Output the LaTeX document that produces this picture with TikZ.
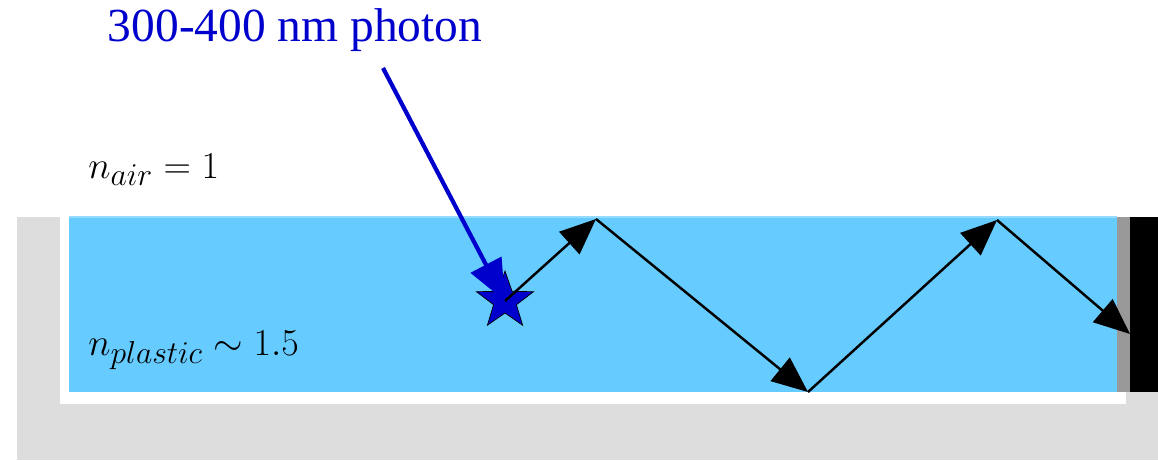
\documentclass[tikz,border=0pt]{standalone}
\usepackage{amsmath}
\usepackage{graphicx}
\usepackage{fontspec}
\usepackage{xcolor}
\usepackage{tikz}
\usetikzlibrary{arrows.meta, shapes.geometric}
\newfontfamily\labelfont{Liberation Serif}
\definecolor{plastic}{HTML}{66CCFF}
\definecolor{housing}{HTML}{DDDDDD}
\definecolor{glue}{HTML}{999999}
\definecolor{photonblue}{HTML}{0000CC}
\def\starR{1.2}
\newcommand{\idx}[1]{\scalebox{0.87}{\fontsize{24.88}{30}\selectfont #1}}

\begin{document}
\begin{tikzpicture}[
    x=0.02cm, y=-0.02cm,
    ray/.style={line width=1.4pt, -{Triangle[length=0.72cm,width=0.6cm]}},
    inray/.style={photonblue, line width=2.4pt, -{Triangle[length=0.82cm,width=0.68cm]}},
    eq/.style={anchor=base west, inner sep=0pt}
]
\useasboundingbox (0,0) rectangle (1158,460);

% housing, gap and light guide
\fill[housing] (17,217) rectangle (1158,460);
\fill[white] (60,217) rectangle (1126,404);
\fill[plastic] (69,217) rectangle (1117,392);
\draw[plastic!70!white, line width=0.6pt] (69,217) -- (1117,217);
\fill[glue] (1117,217) rectangle (1130,392);
\fill[black] (1130,217) rectangle (1158,392);

% labels
\node[photonblue, font=\labelfont\fontsize{27}{32}\selectfont] (photon) at (295,30) {300-400 nm photon};
\node[eq] (nair) at (88,178) {\idx{$n_{air} = 1$}};
\node[eq] (nplastic) at (88,355) {\idx{$n_{plastic} \sim 1.5$}};

% emission point and bounces
\node[star, star points=5, star point ratio=2.5, minimum size=\starR cm, inner sep=0pt,
      fill=photonblue, draw=black, line width=0.4pt] (src) at (505,301) {};
\coordinate (p1) at (596,219);
\coordinate (p2) at (808,392);
\coordinate (p3) at (997,220);
\coordinate (p4) at (1130,334);
\coordinate (entry) at (383,68);

\draw[inray] (entry) -- (src.center);
\draw[ray] (src.center) -- (p1);
\draw[ray] (p1) -- (p2);
\draw[ray] (p2) -- (p3);
\draw[ray] (p3) -- (p4);
\end{tikzpicture}
\end{document}
